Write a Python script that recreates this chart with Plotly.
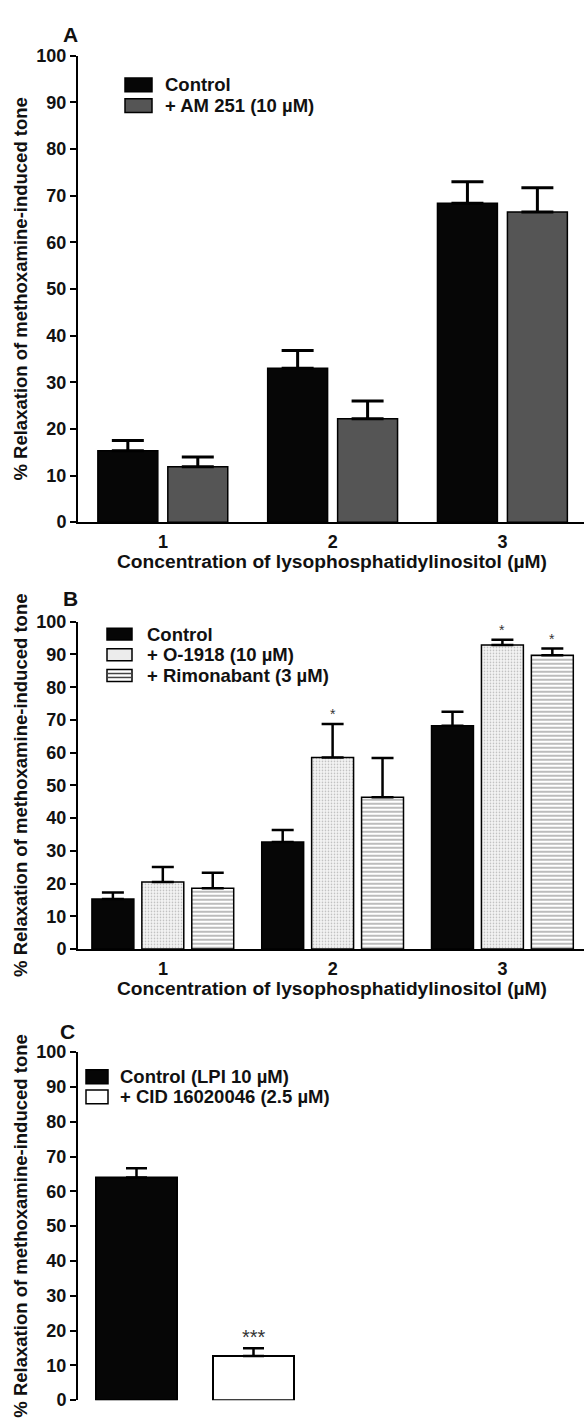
import plotly.graph_objects as go

# ---------------- data ----------------
conc = ["1", "2", "3"]

a_control = [15.3, 33.0, 68.4]
a_control_sem = [2.2, 3.8, 4.6]
a_am251 = [11.9, 22.2, 66.5]
a_am251_sem = [2.1, 3.8, 5.2]

b_control = [15.3, 32.7, 68.2]
b_control_sem = [2.0, 3.7, 4.3]
b_o1918 = [20.5, 58.5, 92.9]
b_o1918_sem = [4.6, 10.3, 1.6]
b_rimonabant = [18.6, 46.4, 89.8]
b_rimonabant_sem = [4.7, 12.0, 2.0]
b_o1918_sig = ["", "*", "*"]
b_rimonabant_sig = ["", "", "*"]

c_groups = ["Control (LPI 10 µM)", "+ CID 16020046 (2.5 µM)"]
c_values = [64.0, 12.7]
c_sem = [2.6, 2.2]
c_sig = ["", "***"]

y_ticks = [0, 10, 20, 30, 40, 50, 60, 70, 80, 90, 100]

# ---------------- style ----------------
W, H = 584, 1420
FONT = "Liberation Sans, Arial, sans-serif"
INK = "#111111"


def fx(px):
    return px / W


def fy(py):
    return 1 - py / H


fig = go.Figure()

# Panel A bars
A_W = 0.353
A_OFF = [-0.383, 0.029]
for vals, sem, off, col, name in [
    (a_control, a_control_sem, A_OFF[0], "#060606", "Control"),
    (a_am251, a_am251_sem, A_OFF[1], "#555555", "+ AM 251 (10 µM)"),
]:
    fig.add_trace(go.Bar(
        x=conc, y=vals, width=A_W, offset=off, name=name, showlegend=False,
        marker=dict(color=col, line=dict(color="#000000", width=1.5)),
        error_y=dict(type="data", symmetric=False, array=sem, arrayminus=[0] * len(sem),
                     color="#000000", thickness=3, width=16),
        xaxis="x", yaxis="y",
    ))

# Panel B bars
B_W = 0.247
B_OFF = [-0.418, -0.124, 0.170]
b_series = [
    (b_control, b_control_sem, B_OFF[0], dict(color="#060606"), "Control"),
    (b_o1918, b_o1918_sem, B_OFF[1],
     dict(color="#f4f4f4", pattern=dict(shape=".", fgcolor="#7a7a7a", size=3, solidity=0.25)),
     "+ O-1918 (10 µM)"),
    (b_rimonabant, b_rimonabant_sem, B_OFF[2],
     dict(color="#ffffff", pattern=dict(shape="-", fgcolor="#6a6a6a", size=4, solidity=0.45)),
     "+ Rimonabant (3 µM)"),
]
for vals, sem, off, mk, name in b_series:
    mk = dict(mk)
    mk["line"] = dict(color="#000000", width=1.5)
    fig.add_trace(go.Bar(
        x=conc, y=vals, width=B_W, offset=off, name=name, showlegend=False,
        marker=mk,
        error_y=dict(type="data", symmetric=False, array=sem, arrayminus=[0] * len(sem),
                     color="#000000", thickness=2.5, width=11),
        xaxis="x2", yaxis="y2",
    ))

# Panel C bars
C_W = 0.692
for i, (g, col) in enumerate(zip(c_groups, ["#060606", "#ffffff"])):
    fig.add_trace(go.Bar(
        x=[g], y=[c_values[i]], width=C_W, offset=-C_W / 2, name=g, showlegend=False,
        marker=dict(color=col, line=dict(color="#000000", width=2)),
        error_y=dict(type="data", symmetric=False, array=[c_sem[i]], arrayminus=[0],
                     color="#000000", thickness=2.5, width=10.5),
        xaxis="x3", yaxis="y3",
    ))

annotations = []
shapes = []

# significance stars
for vals, sem, sig, off in [
    (b_o1918, b_o1918_sem, b_o1918_sig, B_OFF[1]),
    (b_rimonabant, b_rimonabant_sem, b_rimonabant_sig, B_OFF[2]),
]:
    for i, s in enumerate(sig):
        if s:
            annotations.append(dict(
                x=i + off + B_W / 2, y=vals[i] + sem[i], xref="x2", yref="y2",
                text=s, showarrow=False, yanchor="bottom", yshift=0,
                font=dict(family=FONT, size=14, color="#333333"),
            ))
for i, s in enumerate(c_sig):
    if s:
        annotations.append(dict(
            x=c_groups[i], y=c_values[i] + c_sem[i], xref="x3", yref="y3",
            text=s, showarrow=False, yanchor="bottom", yshift=-2,
            font=dict(family=FONT, size=20, color="#333333"),
        ))

# axes
TICKFONT = dict(family=FONT, size=18, color=INK, weight="bold")
yax = dict(range=[0, 100], tickvals=y_ticks, showgrid=False, zeroline=False,
           showline=True, linecolor="#000000", linewidth=2, ticks="outside",
           ticklen=6, tickwidth=2, tickcolor="#000000", tickfont=TICKFONT)
xax = dict(type="category", showgrid=False, zeroline=False, showline=True,
           linecolor="#000000", linewidth=2, ticks="", tickfont=TICKFONT)

panels = {
    "A": dict(top=46.5, bottom=519.5),
    "B": dict(top=620.5, bottom=952.5),
    "C": dict(top=1057.0, bottom=1410.0),
}

fig.update_layout(
    width=W, height=H, autosize=False,
    margin=dict(l=0, r=0, t=0, b=0),
    paper_bgcolor="white", plot_bgcolor="white",
    barmode="overlay", showlegend=False,
    font=dict(family=FONT, color=INK),
    xaxis=dict(xax, domain=[fx(78), fx(584)], range=[-0.5, 2.48], anchor="y",
               ticklabelstandoff=2),
    yaxis=dict(yax, domain=[fy(519.5), fy(46.5)], anchor="x"),
    xaxis2=dict(xax, domain=[fx(78), fx(584)], range=[-0.5, 2.48], anchor="y2",
                ticklabelstandoff=2),
    yaxis2=dict(yax, domain=[fy(952.5), fy(620.5)], anchor="x2"),
    xaxis3=dict(xax, domain=[fx(78), fx(312)], range=[-0.5, 1.5], anchor="y3",
                showline=False, showticklabels=False),
    yaxis3=dict(yax, domain=[fy(1410), fy(1057)], anchor="x3"),
)

# axis titles, panel letters
ytitle = "% Relaxation of methoxamine-induced tone"
xtitle = "Concentration of lysophosphatidylinositol (µM)"
for key, p in panels.items():
    annotations.append(dict(
        x=fx(20.5), y=fy((p["top"] + p["bottom"]) / 2), xref="paper", yref="paper",
        text=ytitle, textangle=-90, showarrow=False, xanchor="center", yanchor="middle",
        font=dict(family=FONT, size=18.5, color=INK, weight="bold"),
    ))
for yc in [559, 992]:
    annotations.append(dict(
        x=fx(331.5), y=fy(yc), xref="paper", yref="paper", text=xtitle,
        showarrow=False, xanchor="center", yanchor="middle",
        font=dict(family=FONT, size=19.2, color=INK, weight="bold"),
    ))
for letter, (xc, yc) in {"A": (70.5, 25), "B": (70.5, 597), "C": (67, 1036)}.items():
    annotations.append(dict(
        x=fx(xc), y=fy(yc), xref="paper", yref="paper", text=letter,
        showarrow=False, xanchor="center", yanchor="middle",
        font=dict(family=FONT, size=21, color=INK, weight="bold"),
    ))

# legends (drawn swatches + labels)
legend_items = [
    # (box x0, x1, row centre y, box h, text x, label, fill, kind)
    (125, 152, 76, 14, 163, "Control", "#060606", "solid"),
    (125, 152, 97, 14, 163, "+ AM 251 (10 µM)", "#555555", "solid"),
    (107, 132, 633, 12, 145, "Control", "#060606", "solid"),
    (107, 132, 654, 12, 145, "+ O-1918 (10 µM)", "#ececec", "dots"),
    (107, 132, 675, 12, 145, "+ Rimonabant (3 µM)", "#ffffff", "lines"),
    (86, 108, 1082, 14, 118, "Control (LPI 10 µM)", "#060606", "solid"),
    (86, 108, 1102.5, 14, 118, "+ CID 16020046 (2.5 µM)", "#ffffff", "solid"),
]
for x0, x1, yc, h, tx, label, fill, kind in legend_items:
    shapes.append(dict(type="rect", xref="paper", yref="paper",
                       x0=fx(x0), x1=fx(x1), y0=fy(yc + h / 2), y1=fy(yc - h / 2),
                       fillcolor=fill, line=dict(color="#000000", width=1.5)))
    if kind == "lines":
        for dy in (-h / 6, h / 6):
            shapes.append(dict(type="line", xref="paper", yref="paper",
                               x0=fx(x0 + 1), x1=fx(x1 - 1), y0=fy(yc + dy), y1=fy(yc + dy),
                               line=dict(color="#444444", width=1.5)))
    annotations.append(dict(
        x=fx(tx), y=fy(yc), xref="paper", yref="paper", text=label,
        showarrow=False, xanchor="left", yanchor="middle",
        font=dict(family=FONT, size=18.5, color=INK, weight="bold"),
    ))

fig.update_layout(annotations=annotations, shapes=shapes)
fig.write_html("out.html")
